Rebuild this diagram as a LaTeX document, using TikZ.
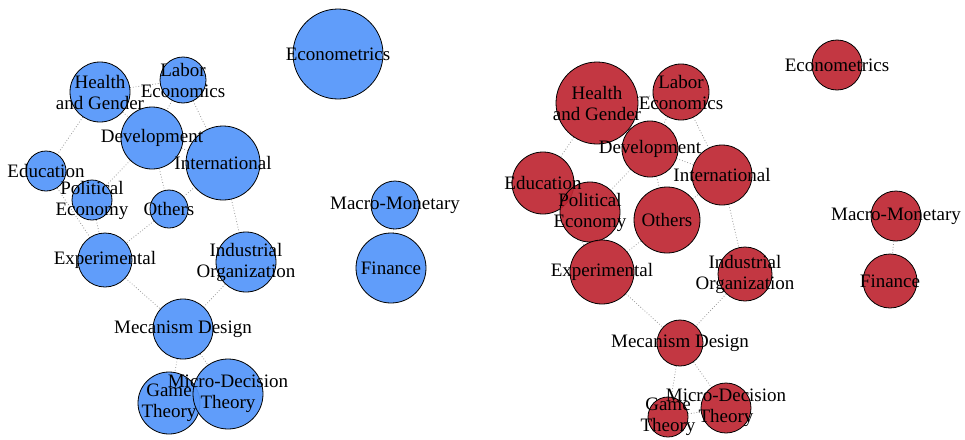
\documentclass[tikz,border=0pt]{standalone}
\usepackage{fontspec}
\setmainfont{Liberation Serif}
\usetikzlibrary{backgrounds}
\definecolor{netblue}{RGB}{84,150,250}
\definecolor{netred}{RGB}{190,40,52}

\begin{document}
\begin{tikzpicture}[
		x=1pt, y=-1pt,
		vtx/.style={circle, draw=black, line width=0.8pt, inner sep=0pt, fill opacity=0.93, minimum size=2*#1 pt},
		bvtx/.style={vtx=#1, fill=netblue},
		rvtx/.style={vtx=#1, fill=netred},
		lbl/.style={inner sep=0pt, align=center, font=\fontsize{19}{21}\selectfont},
		link/.style={gray!80, dotted, line width=0.8pt}
		]
		\useasboundingbox (0,0) rectangle (965,439);
		
		% left network
		\node[bvtx=30] (bH) at (100,92) {};
		\node[bvtx=23] (bL) at (183,80) {};
		\node[bvtx=31] (bD) at (152,138) {};
		\node[bvtx=37] (bI) at (223,163) {};
		\node[bvtx=20] (bE) at (46,171) {};
		\node[bvtx=20] (bP) at (92,200) {};
		\node[bvtx=19] (bO) at (169,209) {};
		\node[bvtx=27] (bX) at (105,260) {};
		\node[bvtx=30] (bIO) at (246,262) {};
		\node[bvtx=30] (bM) at (183,329) {};
		\node[bvtx=31] (bG) at (169,403) {};
		\node[bvtx=35] (bMD) at (228,394) {};
		\node[bvtx=45] (bEc) at (338,54) {};
		\node[bvtx=24] (bMM) at (395,205) {};
		\node[bvtx=35] (bF) at (391,268) {};
		
		% right network
		\node[rvtx=41] (rH) at (597,103) {};
		\node[rvtx=28] (rL) at (681,92) {};
		\node[rvtx=28] (rD) at (650,149) {};
		\node[rvtx=30] (rI) at (722,175) {};
		\node[rvtx=31] (rE) at (543,183) {};
		\node[rvtx=30] (rP) at (590,212) {};
		\node[rvtx=33] (rO) at (667,220) {};
		\node[rvtx=32] (rX) at (602,272) {};
		\node[rvtx=27] (rIO) at (745,274) {};
		\node[rvtx=23] (rM) at (680,343) {};
		\node[rvtx=20] (rG) at (668,417) {};
		\node[rvtx=25] (rMD) at (726,408) {};
		\node[rvtx=25] (rEc) at (837,65) {};
		\node[rvtx=25] (rMM) at (896,216) {};
		\node[rvtx=27] (rF) at (890,281) {};
		
		\begin{scope}[on background layer]
		\draw[link] (bH) -- (bL) (bH) -- (bD) (bL) -- (bD) (bH) -- (bE)
			(bL) -- (bI) (bD) -- (bI) (bD) -- (bP) (bD) -- (bO) (bO) -- (bI)
			(bE) -- (bX) (bP) -- (bX) (bO) -- (bX) (bI) -- (bIO)
			(bX) -- (bM) (bIO) -- (bM) (bM) -- (bG) (bM) -- (bMD) (bG) -- (bMD)
			(bMM) -- (bF);
		\draw[link] (rH) -- (rL) (rH) -- (rD) (rL) -- (rD) (rH) -- (rE)
			(rL) -- (rI) (rD) -- (rI) (rD) -- (rP) (rD) -- (rO) (rO) -- (rI)
			(rE) -- (rX) (rP) -- (rX) (rO) -- (rX) (rI) -- (rIO)
			(rX) -- (rM) (rIO) -- (rM) (rM) -- (rG) (rM) -- (rMD) (rG) -- (rMD)
			(rMM) -- (rF);
		\end{scope}
		
		% labels
		\node[lbl] (bHt) at (bH) {Health\\and Gender};
		\node[lbl] (bLt) at (bL) {Labor\\Economics};
		\node[lbl] (bDt) at (bD) {Development};
		\node[lbl] (bIt) at (bI) {International};
		\node[lbl] (bEt) at (bE) {Education};
		\node[lbl] (bPt) at (bP) {Political\\Economy};
		\node[lbl] (bOt) at (bO) {Others};
		\node[lbl] (bXt) at (bX) {Experimental};
		\node[lbl] (bIOt) at (bIO) {Industrial\\Organization};
		\node[lbl] (bMt) at (bM) {Mecanism Design};
		\node[lbl] (bGt) at (bG) {Game\\Theory};
		\node[lbl] (bMDt) at (bMD) {Micro-Decision\\Theory};
		\node[lbl] (bEct) at (bEc) {Econometrics};
		\node[lbl] (bMMt) at (bMM) {Macro-Monetary};
		\node[lbl] (bFt) at (bF) {Finance};
		
		\node[lbl] (rHt) at (rH) {Health\\and Gender};
		\node[lbl] (rLt) at (rL) {Labor\\Economics};
		\node[lbl] (rDt) at (rD) {Development};
		\node[lbl] (rIt) at (rI) {International};
		\node[lbl] (rEt) at (rE) {Education};
		\node[lbl] (rPt) at (rP) {Political\\Economy};
		\node[lbl] (rOt) at (rO) {Others};
		\node[lbl] (rXt) at (rX) {Experimental};
		\node[lbl] (rIOt) at (rIO) {Industrial\\Organization};
		\node[lbl] (rMt) at (rM) {Mecanism Design};
		\node[lbl] (rGt) at (rG) {Game\\Theory};
		\node[lbl] (rMDt) at (rMD) {Micro-Decision\\Theory};
		\node[lbl] (rEct) at (rEc) {Econometrics};
		\node[lbl] (rMMt) at (rMM) {Macro-Monetary};
		\node[lbl] (rFt) at (rF) {Finance};
\end{tikzpicture}
\end{document}
